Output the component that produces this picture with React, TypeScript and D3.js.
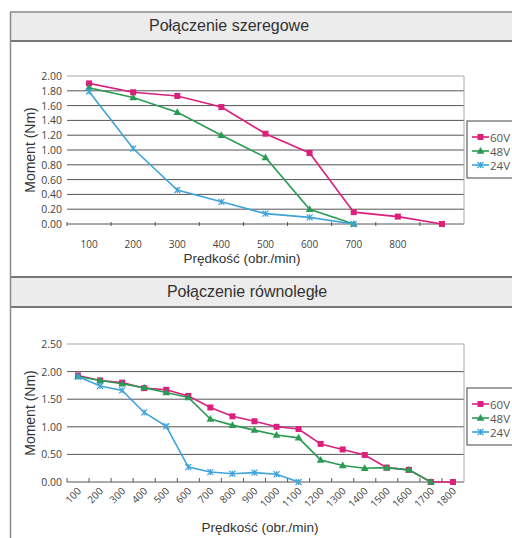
import * as d3 from 'd3'

// Połączenie szeregowe (series)
const serialSpeeds = ['100', '200', '300', '400', '500', '600', '700', '800', '900']
const serialTickLabels = ['100', '200', '300', '400', '500', '600', '700', '800', '']
const serial60V = [1.9, 1.78, 1.73, 1.58, 1.22, 0.96, 0.16, 0.1, 0.0]
const serial48V = [1.84, 1.71, 1.51, 1.2, 0.9, 0.2, 0.0]
const serial24V = [1.79, 1.02, 0.46, 0.3, 0.14, 0.09, 0.0]
const serialYTicks = [0, 0.2, 0.4, 0.6, 0.8, 1.0, 1.2, 1.4, 1.6, 1.8, 2.0]

// Połączenie równoległe (parallel)
const parallelSpeeds = [
  '100', '200', '300', '400', '500', '600', '700', '800', '900',
  '1000', '1100', '1200', '1300', '1400', '1500', '1600', '1700', '1800',
]
const parallel60V = [1.93, 1.84, 1.8, 1.7, 1.67, 1.56, 1.35, 1.19, 1.1, 1.0, 0.96, 0.69, 0.59, 0.49, 0.26, 0.22, 0.0, 0.0]
const parallel48V = [1.91, 1.84, 1.78, 1.71, 1.62, 1.53, 1.14, 1.03, 0.94, 0.85, 0.8, 0.4, 0.3, 0.25, 0.26, 0.22, 0.0]
const parallel24V = [1.91, 1.74, 1.66, 1.26, 1.01, 0.27, 0.18, 0.15, 0.17, 0.14, 0.0]
const parallelYTicks = [0, 0.5, 1.0, 1.5, 2.0, 2.5]

const seriesNames = ['60V', '48V', '24V']
const seriesColors = ['#dc1f7c', '#2a9b52', '#3fa3da']

const tickFont = '"Open Sans", "Liberation Sans", Arial, sans-serif'
const labelFont = '"Liberation Sans", Arial, sans-serif'

type Kind = 'square' | 'triangle' | 'cross'
const kinds: Kind[] = ['square', 'triangle', 'cross']

function Marker({ x, y, kind, color }: { x: number; y: number; kind: Kind; color: string }) {
  if (kind === 'square') return <rect x={x - 3} y={y - 3} width={6} height={6} fill={color} />
  if (kind === 'triangle') {
    const p = d3.symbol().type(d3.symbolTriangle).size(26)() ?? ''
    return <path d={p} transform={`translate(${x},${y + 0.5})`} fill={color} />
  }
  return (
    <g stroke={color} strokeWidth={1.2}>
      <line x1={x - 3} y1={y - 3} x2={x + 3} y2={y + 3} />
      <line x1={x - 3} y1={y + 3} x2={x + 3} y2={y - 3} />
      <line x1={x} y1={y - 3} x2={x} y2={y + 3} />
    </g>
  )
}

interface ChartProps {
  speeds: string[]
  tickLabels: string[]
  series: number[][]
  yTicks: number[]
  yMax: number
  top: number
  bottom: number
  rotated: boolean
  xTitleY: number
  legendTop: number
}

function Chart({ speeds, tickLabels, series, yTicks, yMax, top, bottom, rotated, xTitleY, legendTop }: ChartProps) {
  const left = 67
  const right = 464
  const x = d3.scaleBand<string>().domain(speeds).range([left, right])
  const y = d3.scaleLinear().domain([0, yMax]).range([bottom, top])
  const bw = x.bandwidth()
  const line = d3
    .line<number>()
    .x((_, i) => (x(speeds[i]) ?? 0) + bw / 2)
    .y((d) => y(d))

  return (
    <g>
      {yTicks.map((t, i) => (
        <g key={t}>
          <line
            x1={left}
            x2={right}
            y1={y(t)}
            y2={y(t)}
            stroke={i === yTicks.length - 1 ? '#a8a8a8' : '#555'}
            strokeWidth={1}
          />
          <text
            x={62}
            y={y(t)}
            textAnchor="end"
            dominantBaseline="central"
            fontSize={10.5}
            fontFamily={tickFont}
            fill="#444"
          >
            {t.toFixed(2)}
          </text>
        </g>
      ))}
      <line x1={right} x2={right} y1={top} y2={bottom} stroke="#a8a8a8" />
      {speeds.map((s) => (
        <line
          key={s}
          x1={x(s) ?? 0}
          x2={x(s) ?? 0}
          y1={rotated ? bottom - 4 : bottom - 2}
          y2={rotated ? bottom : bottom + 2}
          stroke="#555"
        />
      ))}
      {speeds.map((s, i) =>
        rotated ? (
          <text
            key={s}
            transform={`translate(${(x(s) ?? 0) + bw / 2 + 1},${bottom + 7}) rotate(-45)`}
            textAnchor="end"
            dominantBaseline="central"
            fontSize={10}
            fontFamily={tickFont}
            fill="#444"
          >
            {tickLabels[i]}
          </text>
        ) : (
          <text
            key={s}
            x={(x(s) ?? 0) + bw / 2}
            y={bottom + 24}
            textAnchor="middle"
            fontSize={10}
            fontFamily={tickFont}
            fill="#444"
          >
            {tickLabels[i]}
          </text>
        ),
      )}
      {series.map((vals, si) => (
        <g key={si}>
          <path d={line(vals) ?? ''} fill="none" stroke={seriesColors[si]} strokeWidth={1.6} />
          {vals.map((v, i) => (
            <Marker
              key={i}
              x={(x(speeds[i]) ?? 0) + bw / 2}
              y={y(v)}
              kind={kinds[si]}
              color={seriesColors[si]}
            />
          ))}
        </g>
      ))}
      <text
        transform={`translate(35,${(top + bottom) / 2}) rotate(-90)`}
        textAnchor="middle"
        fontSize={14}
        fontFamily={labelFont}
        fill="#333"
      >
        Moment (Nm)
      </text>
      <text x={rotated ? 260 : 242} y={xTitleY} textAnchor="middle" fontSize={13.5} fontFamily={labelFont} fill="#333">
        Prędkość (obr./min)
      </text>
      <rect x={467} y={legendTop} width={60} height={57} fill="#fff" stroke="#444" strokeWidth={1} />
      {seriesNames.map((n, si) => {
        const ly = legendTop + 16 + si * 14
        return (
          <g key={n}>
            <line x1={472} x2={489} y1={ly} y2={ly} stroke={seriesColors[si]} strokeWidth={1.6} />
            <Marker x={480.5} y={ly} kind={kinds[si]} color={seriesColors[si]} />
            <text x={490} y={ly} dominantBaseline="central" fontSize={11.5} fontFamily={tickFont} fill="#555">
              {n}
            </text>
          </g>
        )
      })}
    </g>
  )
}

export default function App() {
  return (
    <svg
      width={512}
      height={538}
      style={{ position: 'absolute', left: 0, top: 0, background: '#fff' }}
    >
      <rect x={0} y={0} width={512} height={538} fill="#fff" />
      {/* title bars */}
      <rect x={10} y={12} width={510} height={29} fill="#ececec" />
      <rect x={10} y={277} width={510} height={30} fill="#ececec" />
      <line x1={10} x2={512} y1={12} y2={12} stroke="#8a8a8a" strokeWidth={1.5} />
      <line x1={10} x2={512} y1={41} y2={41} stroke="#777" strokeWidth={2} />
      <line x1={10} x2={512} y1={277} y2={277} stroke="#777" strokeWidth={2} />
      <line x1={10} x2={512} y1={307} y2={307} stroke="#777" strokeWidth={2} />
      <line x1={10.5} x2={10.5} y1={12} y2={538} stroke="#8a8a8a" strokeWidth={1.5} />
      <text x={229} y={31} textAnchor="middle" fontSize={16} fontFamily={labelFont} fill="#333">
        Połączenie szeregowe
      </text>
      <text x={247} y={297} textAnchor="middle" fontSize={16} fontFamily={labelFont} fill="#333">
        Połączenie równoległe
      </text>
      <Chart
        speeds={serialSpeeds}
        tickLabels={serialTickLabels}
        series={[serial60V, serial48V, serial24V]}
        yTicks={serialYTicks}
        yMax={2}
        top={76}
        bottom={224}
        rotated={false}
        xTitleY={263}
        legendTop={121}
      />
      <Chart
        speeds={parallelSpeeds}
        tickLabels={parallelSpeeds}
        series={[parallel60V, parallel48V, parallel24V]}
        yTicks={parallelYTicks}
        yMax={2.5}
        top={344}
        bottom={482}
        rotated={true}
        xTitleY={532}
        legendTop={388}
      />
    </svg>
  )
}
